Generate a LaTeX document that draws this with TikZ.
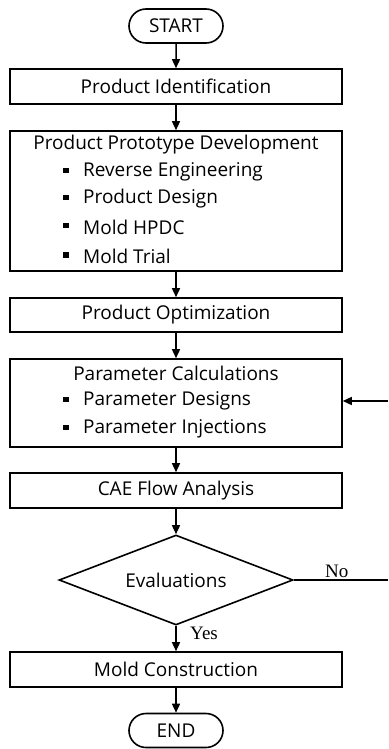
\documentclass[tikz,border=0pt]{standalone}
\usepackage{fontspec}
\setmainfont{Open Sans}
\newfontfamily\labelserif{Liberation Serif}
\usetikzlibrary{shapes.geometric,shapes.misc,arrows.meta}

\begin{document}
\begin{tikzpicture}[x=1pt,y=-1pt,
  every node/.style={font=\fontsize{19}{21}\selectfont, inner sep=0pt},
  flowbox/.style={draw, line width=1.6pt, minimum width=332pt},
  term/.style={draw, line width=1.6pt, rounded rectangle, minimum width=94pt, minimum height=34pt},
  decide/.style={draw, line width=1.6pt, diamond, aspect=2.6, minimum width=234pt, minimum height=90pt},
  flow/.style={line width=1.5pt, -{Triangle[length=9pt,width=8pt]}},
  plain/.style={line width=1.5pt},
  itemtext/.style={anchor=west},
  bul/.style={fill=black, minimum size=5.5pt, inner sep=0pt},
  yn/.style={font=\labelserif\fontsize{19}{21}\selectfont}
]
\useasboundingbox (0,0) rectangle (388,749);

% terminals and process boxes
\node[term] (start) at (176,26) {START};
\node[flowbox, minimum height=35pt] (pid) at (176,86.5) {Product Identification};
\node[flowbox, minimum height=140pt] (ppd) at (176,201) {};
\node[flowbox, minimum height=34pt] (popt) at (176,315) {Product Optimization};
\node[flowbox, minimum height=88pt] (pc) at (176,403) {};
\node[flowbox, minimum height=35pt] (cae) at (176,490.5) {CAE Flow Analysis};
\node[decide] (dec) at (176,580) {Evaluations};
\node[flowbox, minimum height=35pt] (mc) at (176,669.5) {Mold Construction};
\node[term] (end) at (176,730.5) {END};

% contents of the prototype development box
\node (ppdt) at (176,145) {Product Prototype Development};
\node[bul] (b1) at (66,170.5) {};
\node[itemtext] (t1) at (83,172) {Reverse Engineering};
\node[bul] (b2) at (66,197.5) {};
\node[itemtext] (t2) at (83,199) {Product Design};
\node[bul] (b3) at (66,225.5) {};
\node[itemtext] (t3) at (83,227) {Mold HPDC};
\node[bul] (b4) at (66,255) {};
\node[itemtext] (t4) at (83,256.5) {Mold Trial};

% contents of the parameter calculation box
\node (pct) at (176,373) {Parameter Calculations};
\node[bul] (b5) at (66,399.5) {};
\node[itemtext] (t5) at (83,401) {Parameter Designs};
\node[bul] (b6) at (66,427.5) {};
\node[itemtext] (t6) at (83,429) {Parameter Injections};

% main flow
\draw[flow] (start) -- (pid);
\draw[flow] (pid) -- (ppd);
\draw[flow] (ppd) -- (popt);
\draw[flow] (popt) -- (pc);
\draw[flow] (pc) -- (cae);
\draw[flow] (cae) -- (dec);
\draw[flow] (dec) -- (mc);
\draw[flow] (mc) -- (end);

% feedback loop leaving the decision
\coordinate (noout) at (388,580);
\coordinate (backin) at (388,401);
\draw[plain] (dec.east) -- (noout);
\draw[flow] (backin) -- (pc.east |- backin);

\node[yn, anchor=south west] (no) at (325,578) {No};
\node[yn, anchor=west] (yes) at (190,633) {Yes};
\end{tikzpicture}
\end{document}
